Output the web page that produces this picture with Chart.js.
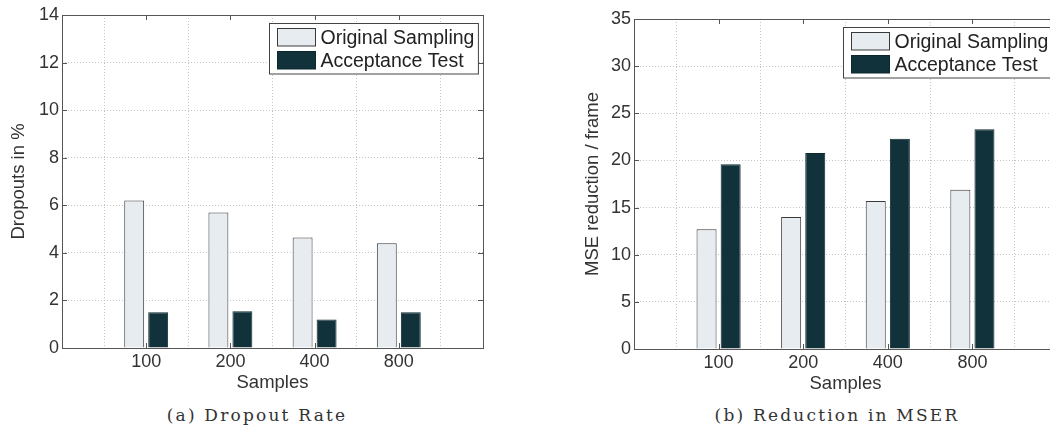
<!DOCTYPE html>
<html>
<head>
<meta charset="utf-8">
<script src="https://cdn.jsdelivr.net/npm/chart.js@4.4.1/dist/chart.umd.min.js"></script>
<style>
  html, body { margin: 0; padding: 0; background: #fff; }
  body { width: 1050px; height: 435px; overflow: hidden; position: relative; }
  .panel { position: absolute; top: 0; }
  #left { left: 0; width: 525px; height: 395px; }
  #right { left: 525px; width: 575px; height: 395px; }
  .caption {
    position: absolute; top: 405px;
    font-family: "DejaVu Serif", "Liberation Serif", serif;
    font-size: 17px; letter-spacing: 2.2px; color: #333;
    white-space: nowrap; transform: translateX(-50%);
  }
</style>
</head>
<body>
<div class="panel" id="left"><canvas id="cLeft"></canvas></div>
<div class="panel" id="right"><canvas id="cRight"></canvas></div>
<div class="caption" style="left:257px">(a) Dropout Rate</div>
<div class="caption" style="left:837px">(b) Reduction in MSER</div>

<script>
// Sample counts on the x axis
const categories = ['100', '200', '400', '800'];

// Dropout rate in percent
const dropoutOriginal   = [6.2, 5.7, 4.65, 4.4];
const dropoutAcceptance = [1.5, 1.55, 1.2, 1.5];

// MSE reduction per frame
const mseOriginal   = [12.7, 14.0, 15.7, 16.9];
const mseAcceptance = [19.6, 20.8, 22.3, 23.3];

const seriesNames = ['Original Sampling', 'Acceptance Test'];

// Empty slots at both ends so the groups sit at 1..4 on a 0..5 axis
const padLabels = a => [''].concat(a, ['']);
const padData = a => [null].concat(a, [null]);

const SANS = '"Liberation Sans", Arial, Helvetica, sans-serif';
const INK = '#333';
const FRAME = '#555';

// Axes box, inward tick marks and a boxed legend in the upper right corner
const framePlugin = {
  id: 'frame',
  beforeDatasetsDraw(chart) {},
  afterDatasetsDraw(chart, args, opts) {
    const { ctx, chartArea: a, scales } = chart;
    ctx.save();
    ctx.strokeStyle = FRAME;
    ctx.lineWidth = 1;
    ctx.strokeRect(Math.round(a.left) + 0.5, Math.round(a.top) + 0.5,
                   Math.round(a.right - a.left), Math.round(a.bottom - a.top));
    const tl = 5;
    ctx.beginPath();
    scales.y.ticks.forEach((t, i) => {
      const y = Math.round(scales.y.getPixelForTick(i)) + 0.5;
      ctx.moveTo(a.left, y); ctx.lineTo(a.left + tl, y);
      ctx.moveTo(a.right, y); ctx.lineTo(a.right - tl, y);
    });
    scales.x.ticks.forEach((t, i) => {
      if (!chart.data.labels[i]) return;
      const x = Math.round(scales.x.getPixelForTick(i)) + 0.5;
      ctx.moveTo(x, a.bottom); ctx.lineTo(x, a.bottom - tl);
      ctx.moveTo(x, a.top); ctx.lineTo(x, a.top + tl);
    });
    ctx.stroke();

    // legend
    const ds = chart.data.datasets;
    ctx.font = opts.fontSize + 'px ' + SANS;
    const textW = Math.max(...ds.map(d => ctx.measureText(d.label).width));
    const sw = opts.swatchW, sh = opts.swatchH, rowH = opts.rowH, pad = opts.pad;
    const w = 8 + sw + 4 + textW + 5;
    const h = pad * 2 + rowH * (ds.length - 1) + sh;
    const x0 = Math.round(a.right - opts.insetX - w) + 0.5;
    const y0 = Math.round(a.top + opts.insetY) + 0.5;
    ctx.fillStyle = '#fff';
    ctx.fillRect(x0, y0, w, h);
    ctx.strokeStyle = '#444';
    ctx.strokeRect(x0, y0, w, h);
    ds.forEach((d, i) => {
      const sy = y0 + pad + i * rowH;
      ctx.fillStyle = d.backgroundColor;
      ctx.fillRect(x0 + 8, sy, sw, sh);
      ctx.strokeStyle = d.borderColor;
      ctx.strokeRect(x0 + 8, sy, sw, sh);
      ctx.fillStyle = '#222';
      ctx.textBaseline = 'middle';
      ctx.textAlign = 'left';
      ctx.fillText(d.label, x0 + 8 + sw + 5, sy + sh / 2 + 1);
    });
    ctx.restore();
  }
};

function makeChart(canvasId, cfg) {
  return new Chart(document.getElementById(canvasId), {
    type: 'bar',
    data: {
      labels: padLabels(categories),
      datasets: [
        {
          label: seriesNames[0],
          data: padData(cfg.original),
          backgroundColor: '#e7ecf1',
          borderColor: '#3a3a3a',
          borderWidth: 1
        },
        {
          label: seriesNames[1],
          data: padData(cfg.acceptance),
          backgroundColor: '#11323a',
          borderColor: '#0c272d',
          borderWidth: 1
        }
      ]
    },
    options: {
      responsive: true,
      maintainAspectRatio: false,
      animation: false,
      devicePixelRatio: 1,
      categoryPercentage: 0.57,
      barPercentage: 0.83,
      layout: { padding: { left: 0, top: cfg.top, right: cfg.right, bottom: 0 } },
      plugins: {
        legend: { display: false },
        tooltip: { enabled: false },
        frame: { fontSize: 19.5, swatchW: 38, swatchH: 17.5, rowH: 23, pad: 5, insetX: 5, insetY: 8 }
      },
      scales: {
        x: {
          offset: false,
          grid: { color: '#c4c4c4', lineWidth: 1, drawTicks: false },
          border: { display: false, dash: [1, 2] },
          ticks: { color: INK, font: { family: SANS, size: 18 }, padding: 3, maxRotation: 0, autoSkip: false },
          title: { display: true, text: 'Samples', color: INK, font: { family: SANS, size: 18.5 }, padding: { top: 0, bottom: cfg.xTitlePad } },
          afterFit: s => { s.height = cfg.xHeight; }
        },
        y: {
          min: 0, max: cfg.yMax,
          grid: { color: '#c4c4c4', lineWidth: 1, drawTicks: false },
          border: { display: false, dash: [1, 2] },
          ticks: { stepSize: cfg.yStep, color: INK, font: { family: SANS, size: 18 }, padding: 3 },
          title: { display: true, text: cfg.yTitle, color: INK, font: { family: SANS, size: 18.5 }, padding: { top: cfg.yTitlePad, bottom: 0 } },
          afterFit: s => { s.width = cfg.yWidth; }
        }
      }
    },
    plugins: [framePlugin]
  });
}

makeChart('cLeft', {
  original: dropoutOriginal, acceptance: dropoutAcceptance,
  yMax: 14, yStep: 2, yTitle: 'Dropouts in %',
  top: 15, right: 42, yWidth: 62, xHeight: 47, xTitlePad: 1, yTitlePad: 8
});

makeChart('cRight', {
  original: mseOriginal, acceptance: mseAcceptance,
  yMax: 35, yStep: 5, yTitle: 'MSE reduction / frame',
  top: 19, right: 43, yWidth: 109, xHeight: 46, xTitlePad: 0, yTitlePad: 57
});
</script>
</body>
</html>
